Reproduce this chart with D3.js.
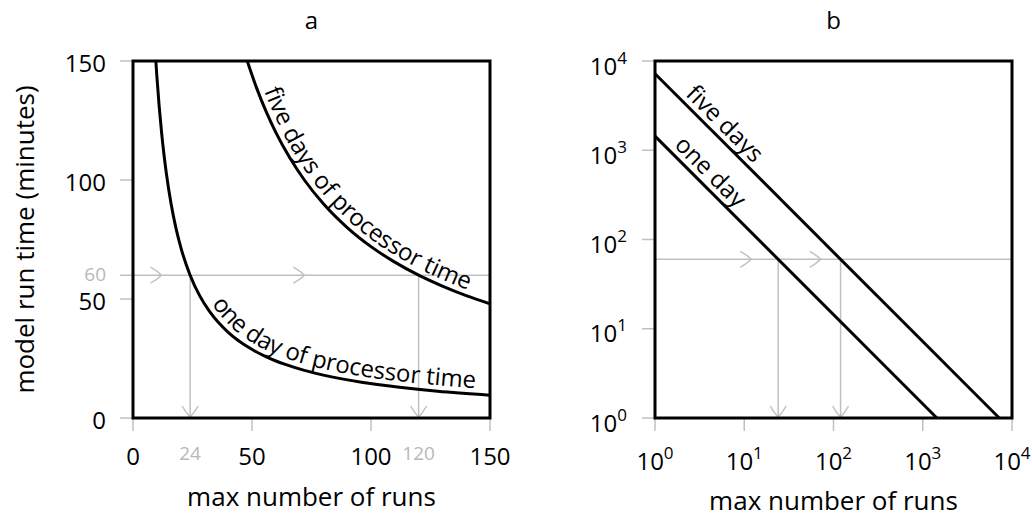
<!DOCTYPE html>
<html>
<head>
<meta charset="utf-8">
<script src="https://cdn.jsdelivr.net/npm/d3@7"></script>
<style>
  body { margin: 0; background: #fff; }
  text { font-family: "Open Sans", Lato, sans-serif; fill: #000; }
</style>
</head>
<body>
<svg id="chart" width="1032" height="521"></svg>
<script>
// panel a: linear axes, curves
const oneDayRuns = [9.6, 10, 11, 12, 13, 14, 16, 18, 20, 24, 28, 32, 36, 40, 48, 56, 64, 72, 80, 96, 112, 128, 150];
const oneDayMinutes = [150, 144, 130.9, 120, 110.8, 102.9, 90, 80, 72, 60, 51.4, 45, 40, 36, 30, 25.7, 22.5, 20, 18, 15, 12.9, 11.25, 9.6];
const fiveDayRuns = [48, 52, 56, 60, 66, 72, 80, 90, 100, 110, 120, 130, 140, 150];
const fiveDayMinutes = [150, 138.5, 128.6, 120, 109.1, 100, 90, 80, 72, 65.5, 60, 55.4, 51.4, 48];

// panel b: log-log, straight lines
const logOneDayRuns = [1, 1440];
const logOneDayMinutes = [1440, 1];
const logFiveDayRuns = [1, 7200];
const logFiveDayMinutes = [7200, 1];

const linTicks = [0, 50, 100, 150];
const logTicks = [1, 10, 100, 1000, 10000];
const logTickExp = ["0", "1", "2", "3", "4"];

const targetMinutes = 60;
const targetRuns = [24, 120];
const arrowRuns = [12, 72];

const grey = "#c0c0c0";
const svg = d3.select("#chart");

const panelA = { left: 133, right: 490, top: 61, bottom: 418 };
const panelB = { left: 655, right: 1012, top: 61, bottom: 418 };

const xa = d3.scaleLinear().domain([0, 150]).range([panelA.left, panelA.right]);
const ya = d3.scaleLinear().domain([0, 150]).range([panelA.bottom, panelA.top]);
const xb = d3.scaleLog().domain([1, 10000]).range([panelB.left, panelB.right]);
const yb = d3.scaleLog().domain([1, 10000]).range([panelB.bottom, panelB.top]);

const defs = svg.append("defs");
defs.append("clipPath").attr("id", "clipA")
  .append("rect")
  .attr("x", panelA.left).attr("y", panelA.top)
  .attr("width", panelA.right - panelA.left).attr("height", panelA.bottom - panelA.top);

const chevron = "M-11,-8 Q-4,-4 0,0 Q-4,4 -11,8";

function drawArrow(g, x, y, angle) {
  g.append("path")
    .attr("d", chevron)
    .attr("transform", `translate(${x},${y}) rotate(${angle})`)
    .attr("fill", "none")
    .attr("stroke", grey)
    .attr("stroke-width", 1.5);
}

function curveLabel(g, id, label, offset, dy) {
  g.append("text")
    .attr("font-size", 24)
    .append("textPath")
    .attr("href", "#" + id)
    .attr("startOffset", offset)
    .append("tspan")
    .attr("dy", dy)
    .text(label);
}

// ---------- panel a ----------
const ga = svg.append("g");

ga.append("text")
  .attr("x", (panelA.left + panelA.right) / 2).attr("y", 29)
  .attr("text-anchor", "middle").attr("font-size", 24)
  .text("a");

// ticks
ga.selectAll(".ytick").data(linTicks).join("line")
  .attr("x1", panelA.left - 13).attr("x2", panelA.left)
  .attr("y1", d => ya(d)).attr("y2", d => ya(d))
  .attr("stroke", grey).attr("stroke-width", 1.5);
ga.selectAll(".xtick").data(linTicks).join("line")
  .attr("x1", d => xa(d)).attr("x2", d => xa(d))
  .attr("y1", panelA.bottom).attr("y2", panelA.bottom + 13)
  .attr("stroke", grey).attr("stroke-width", 1.5);

ga.selectAll(".ylab").data(linTicks).join("text")
  .attr("x", panelA.left - 27).attr("y", d => ya(d) + 10.5)
  .attr("text-anchor", "end").attr("font-size", 24)
  .text(d => d);
ga.selectAll(".xlab").data(linTicks).join("text")
  .attr("x", d => xa(d)).attr("y", panelA.bottom + 47)
  .attr("text-anchor", "middle").attr("font-size", 24)
  .text(d => d);

// grey guide lines
ga.append("line")
  .attr("x1", panelA.left - 13).attr("x2", xa(150))
  .attr("y1", ya(targetMinutes)).attr("y2", ya(targetMinutes))
  .attr("stroke", grey).attr("stroke-width", 1.5);
targetRuns.forEach(r => {
  ga.append("line")
    .attr("x1", xa(r)).attr("x2", xa(r))
    .attr("y1", ya(targetMinutes)).attr("y2", ya(0))
    .attr("stroke", grey).attr("stroke-width", 1.5);
  drawArrow(ga, xa(r), ya(0) - 1, 90);
  ga.append("text")
    .attr("x", xa(r)).attr("y", panelA.bottom + 42)
    .attr("text-anchor", "middle").attr("font-size", 19)
    .style("fill", "#b8b8b8")
    .text(r);
});
arrowRuns.forEach(r => drawArrow(ga, xa(r), ya(targetMinutes), 0));
ga.append("text")
  .attr("x", panelA.left - 27).attr("y", ya(targetMinutes) + 6)
  .attr("text-anchor", "end").attr("font-size", 19)
  .style("fill", "#b8b8b8")
  .text(targetMinutes);

// curves
const lineA = d3.line().x(d => xa(d[0])).y(d => ya(d[1])).curve(d3.curveMonotoneX);
const curvesA = ga.append("g").attr("clip-path", "url(#clipA)");
curvesA.append("path")
  .attr("id", "oneDayA")
  .attr("d", lineA(d3.zip(oneDayRuns, oneDayMinutes)))
  .attr("fill", "none").attr("stroke", "#000").attr("stroke-width", 3);
curvesA.append("path")
  .attr("id", "fiveDayA")
  .attr("d", lineA(d3.zip(fiveDayRuns, fiveDayMinutes)))
  .attr("fill", "none").attr("stroke", "#000").attr("stroke-width", 3);

curveLabel(ga, "fiveDayA", "five days of processor time", 34, -6);
curveLabel(ga, "oneDayA", "one day of processor time", 254, -6);

ga.append("rect")
  .attr("x", panelA.left).attr("y", panelA.top)
  .attr("width", panelA.right - panelA.left).attr("height", panelA.bottom - panelA.top)
  .attr("fill", "none").attr("stroke", "#000").attr("stroke-width", 3);

ga.append("text")
  .attr("x", (panelA.left + panelA.right) / 2).attr("y", 506)
  .attr("text-anchor", "middle").attr("font-size", 26)
  .text("max number of runs");
ga.append("text")
  .attr("transform", `translate(34,${(panelA.top + panelA.bottom) / 2}) rotate(-90)`)
  .attr("text-anchor", "middle").attr("font-size", 26)
  .text("model run time (minutes)");

// ---------- panel b ----------
const gb = svg.append("g");

gb.append("text")
  .attr("x", (panelB.left + panelB.right) / 2).attr("y", 29)
  .attr("text-anchor", "middle").attr("font-size", 24)
  .text("b");

gb.selectAll(".ytick").data(logTicks).join("line")
  .attr("x1", panelB.left - 13).attr("x2", panelB.left)
  .attr("y1", d => yb(d)).attr("y2", d => yb(d))
  .attr("stroke", grey).attr("stroke-width", 1.5);
gb.selectAll(".xtick").data(logTicks).join("line")
  .attr("x1", d => xb(d)).attr("x2", d => xb(d))
  .attr("y1", panelB.bottom).attr("y2", panelB.bottom + 13)
  .attr("stroke", grey).attr("stroke-width", 1.5);

function powerLabel(sel) {
  sel.append("tspan").text("10");
  sel.append("tspan").attr("dy", -11).attr("font-size", 17).text((d, i) => logTickExp[i]);
}

gb.selectAll(".ylab").data(logTicks).join("text")
  .attr("x", panelB.left - 28).attr("y", d => yb(d) + 13.5)
  .attr("text-anchor", "end").attr("font-size", 24)
  .call(powerLabel);
gb.selectAll(".xlab").data(logTicks).join("text")
  .attr("x", d => xb(d)).attr("y", panelB.bottom + 52)
  .attr("text-anchor", "middle").attr("font-size", 24)
  .call(powerLabel);

gb.append("line")
  .attr("x1", xb(1)).attr("x2", xb(10000))
  .attr("y1", yb(targetMinutes)).attr("y2", yb(targetMinutes))
  .attr("stroke", grey).attr("stroke-width", 1.5);
targetRuns.forEach(r => {
  gb.append("line")
    .attr("x1", xb(r)).attr("x2", xb(r))
    .attr("y1", yb(targetMinutes)).attr("y2", yb(1))
    .attr("stroke", grey).attr("stroke-width", 1.5);
  drawArrow(gb, xb(r), yb(1) - 1, 90);
});
arrowRuns.forEach(r => drawArrow(gb, xb(r), yb(targetMinutes), 0));

const lineB = d3.line().x(d => xb(d[0])).y(d => yb(d[1]));
gb.append("path")
  .attr("id", "oneDayB")
  .attr("d", lineB(d3.zip(logOneDayRuns, logOneDayMinutes)))
  .attr("fill", "none").attr("stroke", "#000").attr("stroke-width", 3);
gb.append("path")
  .attr("id", "fiveDayB")
  .attr("d", lineB(d3.zip(logFiveDayRuns, logFiveDayMinutes)))
  .attr("fill", "none").attr("stroke", "#000").attr("stroke-width", 3);

curveLabel(gb, "fiveDayB", "five days", 36, -6);
curveLabel(gb, "oneDayB", "one day", 20, -6);

gb.append("rect")
  .attr("x", panelB.left).attr("y", panelB.top)
  .attr("width", panelB.right - panelB.left).attr("height", panelB.bottom - panelB.top)
  .attr("fill", "none").attr("stroke", "#000").attr("stroke-width", 3);

gb.append("text")
  .attr("x", (panelB.left + panelB.right) / 2).attr("y", 510)
  .attr("text-anchor", "middle").attr("font-size", 26)
  .text("max number of runs");
</script>
</body>
</html>
